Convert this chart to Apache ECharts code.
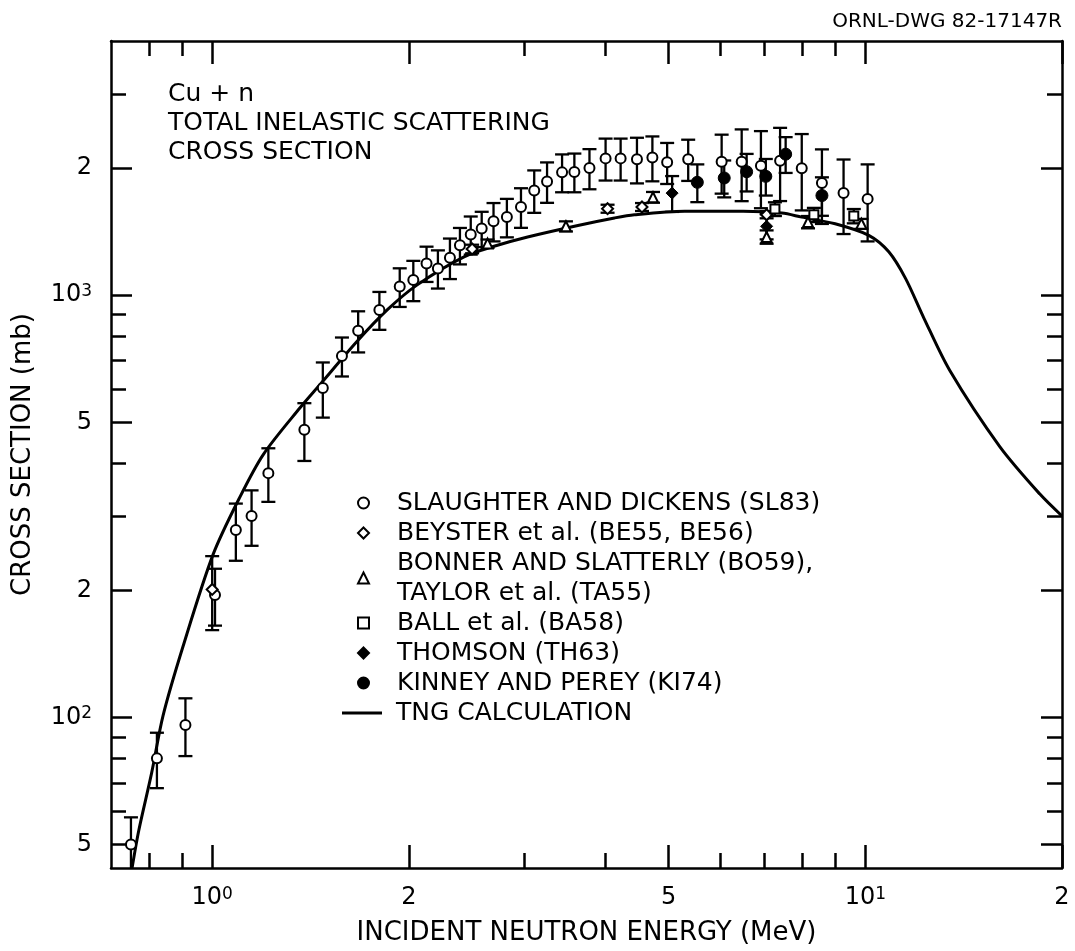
<!DOCTYPE html>
<html><head><meta charset="utf-8">
<script src="https://cdn.jsdelivr.net/npm/echarts@6/dist/echarts.min.js"></script>
<style>html,body{margin:0;padding:0;background:#fff}#c{width:1075px;height:951px}</style>
</head><body><div id="c"></div>
<script>
// ---- data (energy in MeV, cross section in mb) ----
const slEnergy = [0.751,0.823,0.910,1.01,1.087,1.149,1.219,1.384,1.477,1.580,1.673,1.803,1.937,2.032,2.129,2.216,2.312,2.395,2.488,2.586,2.696,2.826,2.970,3.112,3.256,3.433,3.585,3.781,4.002,4.220,4.470,4.72,4.972,5.355,6.025,6.466,6.92,7.404,7.991,8.58,9.26,10.08];
const slSigma = [50,80,96,195,278,300,379,480,603,718,824,923,1048,1087,1189,1157,1227,1313,1392,1438,1497,1531,1618,1771,1859,1954,1959,2000,2109,2109,2100,2119,2064,2100,2070,2070,2027,2081,1998,1845,1746,1691];
const slError = [8,12,15,30,43,45,55,75,90,76,92,95,110,119,114,120,135,130,144,138,156,160,174,204,204,201,206,218,240,240,260,258,230,235,330,400,420,410,410,370,350,350];

const beEnergy = [1.0, 2.50, 4.03, 4.55, 7.06];
const beSigma = [201, 1287, 1603, 1618, 1551];
const beError = [40, 30, 35, 35, 30];

const boEnergy = [2.64, 3.48, 4.73, 7.06, 8.17, 9.86];
const boSigma = [1325, 1456, 1706, 1374, 1490, 1476];
const boError = [30, 40, 50, 50, 50, 40];

const baEnergy = [7.27, 8.34, 9.60];
const baSigma = [1600, 1550, 1540];
const baError = [60, 60, 60];

const thEnergy = [5.06, 7.06];
const thSigma = [1745, 1456];
const thError = [170, 100];

const kiEnergy = [5.53, 6.08, 6.58, 7.04, 7.55, 8.58];
const kiSigma = [1851, 1895, 1961, 1912, 2158, 1722];
const kiError = [190, 190, 200, 190, 210, 180];

const tngEnergy = [0.754,0.772,0.808,0.841,0.902,1.003,1.103,1.198,1.364,1.463,1.667,1.853,2.060,2.43,2.734,3.04,3.63,4.13,4.43,5.29,6.50,7.45,7.99,8.99,10.12,10.86,11.52,12.29,13.46,16.06,18.5,20];
const tngSigma = [44,54,74,101,147,243,333,420,542,615,778,923,1058,1233,1313,1374,1463,1524,1551,1581,1581,1565,1531,1476,1386,1267,1096,883,664,438,338,300];

const seriesNames = ['SLAUGHTER AND DICKENS (SL83)','BEYSTER et al. (BE55, BE56)','BONNER AND SLATTERLY (BO59),\nTAYLOR et al. (TA55)','BALL et al. (BA58)','THOMSON (TH63)','KINNEY AND PEREY (KI74)','TNG CALCULATION'];

const xMajorTicks = [1, 2, 5, 10, 20];
const xTickLabels = ['10^0', '2', '5', '10^1', '2'];
const xMinorTicks = [0.8, 0.9, 3, 4, 6, 7, 8, 9];
const yMajorTicks = [50, 100, 200, 500, 1000, 2000];
const yTickLabels = ['5', '10^2', '2', '5', '10^3', '2'];
const yMinorTicks = [60, 70, 80, 90, 300, 400, 600, 700, 800, 900, 3000];

const titleLines = ['Cu + n', 'TOTAL INELASTIC SCATTERING', 'CROSS SECTION'];
const drawingId = 'ORNL-DWG 82-17147R';
const xName = 'INCIDENT NEUTRON ENERGY (MeV)';
const yName = 'CROSS SECTION (mb)';

// ---- helpers ----
const FONT = 'DejaVu Sans';
function richLabel(txt) {
  const m = /^(\d+)\^(\d+)$/.exec(txt);
  return m ? '{b|' + m[1] + '}{s|' + m[2] + '}' : '{b|' + txt + '}';
}
function makeFormatter(vals, texts) {
  return function (v) {
    for (let i = 0; i < vals.length; i++) {
      if (Math.abs(vals[i] - v) / vals[i] < 1e-6) return richLabel(texts[i]);
    }
    return '';
  };
}
const rich = {
  b: {fontFamily: FONT, fontSize: 24, color: '#000'},
  s: {fontFamily: FONT, fontSize: 17, color: '#000', verticalAlign: 'top'}
};
const lineW = 2.5;

function xAxisDef(pos, ticks, len, showLine, showLabel) {
  return {
    type: 'log', logBase: 10, min: 0.7, max: 20, position: pos, offset: 0,
    axisLine: {show: showLine, lineStyle: {color: '#000', width: lineW}},
    axisTick: {show: true, inside: true, length: len, customValues: ticks, lineStyle: {color: '#000', width: lineW}},
    axisLabel: showLabel ? {show: true, customValues: ticks, formatter: makeFormatter(xMajorTicks, xTickLabels), margin: 18, rich: rich} : {show: false},
    splitLine: {show: false}, minorTick: {show: false}
  };
}
function yAxisDef(pos, ticks, len, showLine, showLabel) {
  return {
    type: 'log', logBase: 10, min: 44, max: 4000, position: pos, offset: 0,
    axisLine: {show: showLine, lineStyle: {color: '#000', width: lineW}},
    axisTick: {show: true, inside: true, length: len, customValues: ticks, lineStyle: {color: '#000', width: lineW}},
    axisLabel: showLabel ? {show: true, customValues: ticks, formatter: makeFormatter(yMajorTicks, yTickLabels), margin: 19, rich: rich} : {show: false},
    splitLine: {show: false}, minorTick: {show: false}
  };
}

function errData(E, S, Er) {
  return E.map((e, i) => [e, S[i] - Er[i], S[i] + Er[i]]);
}
function pts(E, S) { return E.map((e, i) => [e, S[i]]); }

function renderErr(params, api) {
  const x = api.value(0), lo = api.value(1), hi = api.value(2);
  const p1 = api.coord([x, hi]), p2 = api.coord([x, lo]);
  const w = 7;
  const st = {stroke: '#000', lineWidth: 2.3};
  return {type: 'group', children: [
    {type: 'line', shape: {x1: p1[0], y1: p1[1], x2: p2[0], y2: p2[1]}, style: st},
    {type: 'line', shape: {x1: p1[0] - w, y1: p1[1], x2: p1[0] + w, y2: p1[1]}, style: st},
    {type: 'line', shape: {x1: p2[0] - w, y1: p2[1], x2: p2[0] + w, y2: p2[1]}, style: st}
  ]};
}
function errSeries(id, E, S, Er) {
  return {type: 'custom', name: id, renderItem: renderErr, data: errData(E, S, Er),
    encode: {x: 0, y: [1, 2]}, clip: true, z: 2, silent: true, xAxisIndex: 0, yAxisIndex: 0};
}
const openStyle = {color: '#fff', borderColor: '#000', borderWidth: 2, opacity: 1};
const fillStyle = {color: '#000', borderColor: '#000', borderWidth: 1, opacity: 1};
function scatter(name, E, S, symbol, size, style) {
  return {type: 'scatter', name: name, data: pts(E, S), symbol: symbol, symbolSize: size, symbolKeepAspect: true,
    itemStyle: style, z: 5, xAxisIndex: 0, yAxisIndex: 0, clip: true};
}

const chart = echarts.init(document.getElementById('c'), null, {renderer: 'canvas'});
chart.setOption({
  animation: false,
  backgroundColor: '#fff',
  textStyle: {fontFamily: FONT, color: '#000'},
  title: [
    {text: titleLines.join('\n'), left: 163, top: 75, padding: 5,
     textStyle: {fontFamily: FONT, fontSize: 25, fontWeight: 'normal', color: '#000', lineHeight: 29}},
    {text: drawingId, right: 8, top: 7, padding: 5,
     textStyle: {fontFamily: FONT, fontSize: 20, fontWeight: 'normal', color: '#000'}}
  ],
  grid: {left: 111, right: 13, top: 41, bottom: 78, containLabel: false},
  legend: [
    {
      orient: 'vertical', left: 357, top: 488, padding: 0, itemGap: 0,
      itemWidth: 11, itemHeight: 11,
      data: seriesNames.slice(0, 6),
      itemStyle: {borderWidth: 2, opacity: 1},
      textStyle: {fontFamily: FONT, fontSize: 25, color: '#000', lineHeight: 30, padding: [0, 0, 0, 23]},
      selectedMode: false
    },
    {
      orient: 'vertical', left: 342, top: 698, padding: 0, itemGap: 0,
      itemWidth: 40, itemHeight: 3, icon: 'rect',
      data: seriesNames.slice(6),
      textStyle: {fontFamily: FONT, fontSize: 25, color: '#000', lineHeight: 30, padding: [0, 0, 0, 9]},
      selectedMode: false
    }
  ],
  xAxis: [
    Object.assign(xAxisDef('bottom', xMajorTicks, 23, true, true),
      {name: xName, nameLocation: 'middle', nameGap: 52, nameTextStyle: {fontFamily: FONT, fontSize: 26, color: '#000'}}),
    xAxisDef('bottom', xMinorTicks, 15, false, false),
    xAxisDef('top', xMajorTicks, 23, true, false),
    xAxisDef('top', xMinorTicks, 15, false, false)
  ],
  yAxis: [
    Object.assign(yAxisDef('left', yMajorTicks, 21, true, true),
      {name: yName, nameLocation: 'middle', nameGap: 75, nameTextStyle: {fontFamily: FONT, fontSize: 26, color: '#000'}}),
    yAxisDef('left', yMinorTicks, 15, false, false),
    yAxisDef('right', yMajorTicks, 21, true, false),
    yAxisDef('right', yMinorTicks, 15, false, false)
  ],
  series: [
    {type: 'line', name: seriesNames[6], data: pts(tngEnergy, tngSigma), symbol: 'none', smooth: 0.3,
     lineStyle: {color: '#000', width: 3}, itemStyle: {color: '#000'}, z: 1, xAxisIndex: 0, yAxisIndex: 0, clip: true},
    errSeries('err-sl', slEnergy, slSigma, slError),
    errSeries('err-be', beEnergy, beSigma, beError),
    errSeries('err-bo', boEnergy, boSigma, boError),
    errSeries('err-ba', baEnergy, baSigma, baError),
    errSeries('err-th', thEnergy, thSigma, thError),
    errSeries('err-ki', kiEnergy, kiSigma, kiError),
    scatter(seriesNames[0], slEnergy, slSigma, 'circle', 10, openStyle),
    scatter(seriesNames[1], beEnergy, beSigma, 'diamond', 11, openStyle),
    scatter(seriesNames[2], boEnergy, boSigma, 'triangle', 10, openStyle),
    scatter(seriesNames[3], baEnergy, baSigma, 'rect', 9, openStyle),
    scatter(seriesNames[4], thEnergy, thSigma, 'diamond', 12, fillStyle),
    scatter(seriesNames[5], kiEnergy, kiSigma, 'circle', 12, fillStyle)
  ]
});
</script>
</body></html>
